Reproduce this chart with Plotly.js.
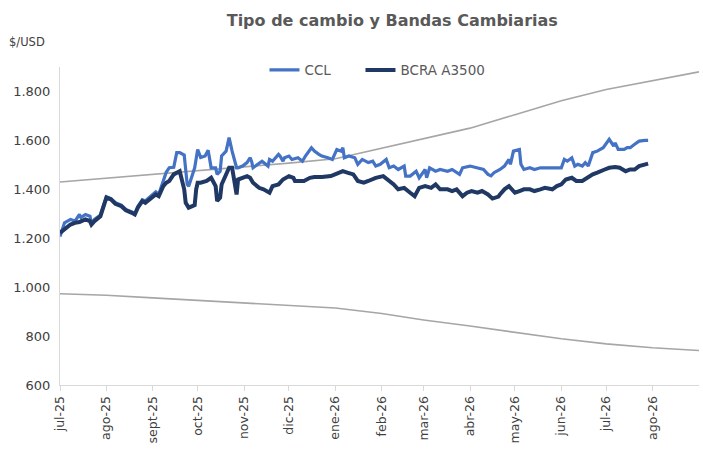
<!DOCTYPE html>
<html>
<head>
<meta charset="utf-8">
<script src="https://cdn.plot.ly/plotly-3.0.1.min.js"></script>
<style>
  html, body { margin: 0; padding: 0; background: #ffffff; }
  #chart { width: 703px; height: 456px; }
</style>
</head>
<body>
<div id="chart"></div>
<script>
// Tipo de cambio CCL vs oficial (BCRA A3500) y bandas cambiarias

const cclDates = [
  '2025-07-01','2025-07-03','2025-07-04','2025-07-08','2025-07-11','2025-07-14','2025-07-15','2025-07-18',
  '2025-07-21','2025-07-22','2025-07-24','2025-07-28','2025-07-30','2025-08-01','2025-08-04','2025-08-07',
  '2025-08-11','2025-08-14','2025-08-18','2025-08-20','2025-08-22','2025-08-25','2025-08-27','2025-09-01',
  '2025-09-03','2025-09-05','2025-09-08','2025-09-10','2025-09-12','2025-09-15','2025-09-17','2025-09-19',
  '2025-09-22','2025-09-23','2025-09-24','2025-09-25','2025-09-29','2025-10-01','2025-10-03','2025-10-06',
  '2025-10-08','2025-10-10','2025-10-13','2025-10-14','2025-10-16','2025-10-17','2025-10-20','2025-10-22',
  '2025-10-23','2025-10-24','2025-10-27','2025-10-28','2025-10-31','2025-11-03','2025-11-05','2025-11-06',
  '2025-11-07','2025-11-10','2025-11-13','2025-11-17','2025-11-18','2025-11-20','2025-11-24','2025-11-25',
  '2025-11-27','2025-11-28','2025-12-01','2025-12-03','2025-12-07','2025-12-10','2025-12-12','2025-12-16',
  '2025-12-18','2025-12-21','2025-12-23','2025-12-27','2025-12-30','2026-01-02','2026-01-05','2026-01-06',
  '2026-01-07','2026-01-10','2026-01-14','2026-01-16','2026-01-19','2026-01-23','2026-01-26','2026-01-28',
  '2026-01-31','2026-02-04','2026-02-06','2026-02-09','2026-02-12','2026-02-16','2026-02-17','2026-02-20',
  '2026-02-24','2026-02-26','2026-03-02','2026-03-03','2026-03-05','2026-03-09','2026-03-12','2026-03-17',
  '2026-03-20','2026-03-25','2026-03-27','2026-04-01','2026-04-06','2026-04-10','2026-04-13','2026-04-15',
  '2026-04-17','2026-04-21','2026-04-24','2026-04-27','2026-04-28','2026-04-30','2026-05-04','2026-05-05',
  '2026-05-07','2026-05-11','2026-05-14','2026-05-18','2026-05-21','2026-05-25','2026-05-29','2026-06-01',
  '2026-06-03','2026-06-05','2026-06-08','2026-06-10','2026-06-12','2026-06-15','2026-06-17','2026-06-19',
  '2026-06-22','2026-06-25','2026-06-29','2026-07-01','2026-07-03','2026-07-06','2026-07-07','2026-07-09',
  '2026-07-13','2026-07-15','2026-07-17','2026-07-20','2026-07-23','2026-07-27','2026-07-29'
];
const cclValues = [
  1207,1245,1263,1277,1270,1297,1284,1297,
  1290,1262,1277,1295,1330,1370,1362,1345,
  1335,1318,1308,1300,1330,1357,1352,1380,
  1390,1380,1430,1470,1488,1490,1550,1550,
  1540,1460,1420,1413,1488,1563,1530,1536,
  1560,1488,1488,1461,1474,1536,1556,1611,
  1577,1556,1488,1488,1495,1509,1529,1515,
  1488,1502,1515,1495,1522,1515,1543,1536,
  1515,1529,1536,1522,1529,1515,1536,1570,
  1556,1543,1536,1529,1522,1563,1556,1570,
  1529,1536,1529,1502,1522,1509,1515,1495,
  1502,1522,1488,1495,1481,1495,1454,1454,
  1474,1447,1481,1447,1488,1474,1481,1474,
  1481,1461,1488,1495,1488,1481,1461,1455,
  1468,1481,1495,1522,1502,1556,1563,1502,
  1481,1488,1481,1488,1488,1488,1488,1488,
  1522,1515,1529,1495,1502,1495,1509,1495,
  1550,1556,1570,1590,1604,1577,1590,1563,
  1563,1570,1570,1584,1597,1600,1600
];

const a3500Dates = [
  '2025-07-01','2025-07-04','2025-07-08','2025-07-11','2025-07-14','2025-07-18','2025-07-21','2025-07-22',
  '2025-07-24','2025-07-28','2025-07-30','2025-08-01','2025-08-04','2025-08-07','2025-08-11','2025-08-14',
  '2025-08-18','2025-08-20','2025-08-22','2025-08-25','2025-08-27','2025-09-01','2025-09-03','2025-09-05',
  '2025-09-08','2025-09-10','2025-09-12','2025-09-15','2025-09-17','2025-09-19','2025-09-22','2025-09-23',
  '2025-09-25','2025-09-29','2025-09-30','2025-10-01','2025-10-03','2025-10-07','2025-10-10','2025-10-13',
  '2025-10-14','2025-10-16','2025-10-17','2025-10-20','2025-10-22','2025-10-24','2025-10-27','2025-10-28',
  '2025-10-31','2025-11-03','2025-11-05','2025-11-07','2025-11-11','2025-11-14','2025-11-18','2025-11-20',
  '2025-11-24','2025-11-27','2025-12-01','2025-12-04','2025-12-05','2025-12-11','2025-12-15','2025-12-18',
  '2025-12-23','2025-12-29','2026-01-02','2026-01-06','2026-01-09','2026-01-13','2026-01-16','2026-01-20',
  '2026-01-23','2026-01-28','2026-02-02','2026-02-05','2026-02-09','2026-02-12','2026-02-16','2026-02-20',
  '2026-02-23','2026-02-26','2026-03-02','2026-03-06','2026-03-09','2026-03-12','2026-03-17','2026-03-20',
  '2026-03-23','2026-03-27','2026-03-30','2026-04-02','2026-04-06','2026-04-09','2026-04-13','2026-04-16',
  '2026-04-20','2026-04-21','2026-04-24','2026-04-27','2026-04-29','2026-05-01','2026-05-04','2026-05-07',
  '2026-05-11','2026-05-14','2026-05-18','2026-05-21','2026-05-26','2026-05-29','2026-06-01','2026-06-04',
  '2026-06-08','2026-06-11','2026-06-15','2026-06-18','2026-06-22','2026-06-25','2026-06-29','2026-06-30',
  '2026-07-03','2026-07-07','2026-07-10','2026-07-14','2026-07-17','2026-07-20','2026-07-23','2026-07-27',
  '2026-07-29'
];
const a3500Values = [
  1222,1236,1256,1263,1266,1277,1270,1256,
  1270,1290,1325,1366,1359,1341,1331,1314,
  1304,1297,1325,1352,1345,1372,1379,1372,
  1413,1427,1434,1461,1468,1474,1400,1345,
  1325,1335,1400,1427,1427,1434,1447,1413,
  1352,1366,1420,1461,1488,1488,1379,1440,
  1447,1454,1447,1427,1406,1400,1386,1413,
  1420,1440,1454,1447,1434,1434,1447,1450,
  1450,1454,1464,1474,1468,1461,1434,1427,
  1434,1447,1454,1440,1420,1400,1406,1386,
  1372,1406,1413,1406,1420,1400,1400,1393,
  1400,1372,1386,1393,1386,1393,1379,1362,
  1370,1379,1400,1413,1400,1386,1393,1400,
  1400,1393,1400,1406,1400,1413,1420,1440,
  1447,1434,1434,1447,1461,1468,1481,1481,
  1488,1491,1488,1474,1481,1481,1495,1502,
  1505
];

// Bandas cambiarias (techo y piso)
const bandDates = [
  '2025-07-01','2025-08-01','2025-09-01','2025-10-01','2025-11-01','2025-12-01','2026-01-01',
  '2026-02-01','2026-03-01','2026-04-01','2026-05-01','2026-06-01','2026-07-01','2026-08-01','2026-09-01'
];
const bandUpper = [1430,1445,1460,1475,1491,1507,1525,1568,1608,1650,1705,1762,1808,1845,1880];
const bandLower = [973,967,956,946,936,926,915,892,866,841,816,789,768,752,741];

// Eje X: un tick por mes
const monthTicks = [
  '2025-07-01','2025-08-01','2025-09-01','2025-10-01','2025-11-01','2025-12-01','2026-01-01',
  '2026-02-01','2026-03-01','2026-04-01','2026-05-01','2026-06-01','2026-07-01','2026-08-01'
];
const monthLabels = [
  'jul-25','ago-25','sept-25','oct-25','nov-25','dic-25','ene-26',
  'feb-26','mar-26','abr-26','may-26','jun-26','jul-26','ago-26'
];
const yTicks = [600, 800, 1000, 1200, 1400, 1600, 1800];

const FONT = 'DejaVu Sans, Verdana, sans-serif';
const BAND_COLOR = '#A6A6A6';

const traces = [
  {
    x: bandDates, y: bandUpper, type: 'scatter', mode: 'lines',
    line: { color: BAND_COLOR, width: 1.6 }, showlegend: false, hoverinfo: 'skip'
  },
  {
    x: bandDates, y: bandLower, type: 'scatter', mode: 'lines',
    line: { color: BAND_COLOR, width: 1.6 }, showlegend: false, hoverinfo: 'skip'
  },
  {
    x: cclDates, y: cclValues, type: 'scatter', mode: 'lines', name: 'CCL',
    line: { color: '#4472C4', width: 3.2 },
    legendwidth: 51
  },
  {
    x: a3500Dates, y: a3500Values, type: 'scatter', mode: 'lines', name: 'BCRA A3500',
    line: { color: '#1F3864', width: 4 }
  }
];

const layout = {
  width: 703,
  height: 456,
  margin: { l: 60, r: 4, t: 67, b: 71 },
  paper_bgcolor: '#ffffff',
  plot_bgcolor: '#ffffff',
  font: { family: FONT, size: 13, color: '#404040' },
  separators: ',.',
  title: {
    text: 'Tipo de cambio y Bandas Cambiarias',
    font: { family: FONT, size: 16, color: '#595959', weight: 'bold' },
    x: 0.558, xanchor: 'center', xref: 'container',
    y: 0.956, yanchor: 'middle'
  },
  xaxis: {
    type: 'date',
    range: ['2025-07-01', '2026-09-01'],
    tickmode: 'array',
    tickvals: monthTicks,
    ticktext: monthLabels,
    tickangle: -90,
    tickfont: { family: FONT, size: 12.5, color: '#404040' },
    ticks: 'outside', ticklen: 5, tickcolor: '#D9D9D9', tickwidth: 1,
    showline: true, linecolor: '#D9D9D9', linewidth: 1,
    showgrid: false, zeroline: false, fixedrange: true
  },
  yaxis: {
    range: [600, 1900],
    tickmode: 'array',
    tickvals: yTicks,
    tickformat: ',d',
    separatethousands: true,
    tickfont: { family: FONT, size: 13, color: '#404040' },
    ticks: '', ticklabelstandoff: 6,
    showline: true, linecolor: '#D9D9D9', linewidth: 1,
    showgrid: false, zeroline: false, fixedrange: true
  },
  legend: {
    orientation: 'h',
    x: 0.32, xanchor: 'left',
    y: 0.99, yanchor: 'middle',
    font: { family: FONT, size: 13.5, color: '#595959' },
    bgcolor: 'rgba(0,0,0,0)',
    traceorder: 'normal'
  },
  annotations: [
    {
      text: '$/USD', xref: 'paper', yref: 'paper',
      x: -0.083, y: 1.078, xanchor: 'left', yanchor: 'middle',
      showarrow: false,
      font: { family: FONT, size: 11.5, color: '#404040' }
    }
  ]
};

Plotly.newPlot('chart', traces, layout, { displayModeBar: false, staticPlot: true });
</script>
</body>
</html>
